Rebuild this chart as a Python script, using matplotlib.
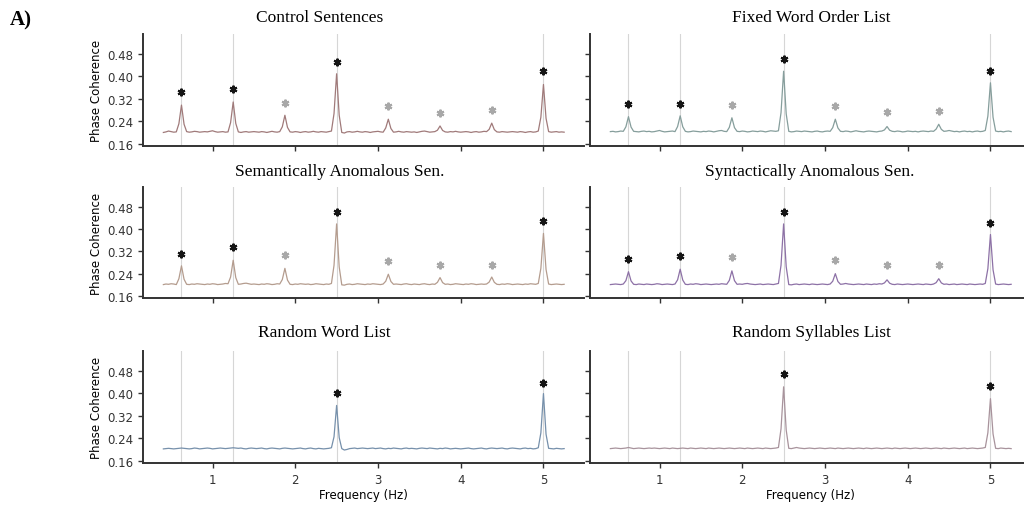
import matplotlib
matplotlib.use("Agg")
import matplotlib.pyplot as plt
import numpy as np

# frequency grid: k/32 Hz for k = 13..168
freqs = np.arange(13, 169) / 32.0

control = [
    0.201,0.203,0.206,0.204,0.202,0.203,0.232,0.298,0.230,0.204,0.202,0.203,0.205,0.204,0.202,0.203,0.204,
    0.203,0.205,0.207,0.204,0.202,0.203,0.204,0.202,0.203,0.236,0.309,0.233,0.203,0.201,0.203,0.204,0.202,0.203,0.204,0.203,
    0.202,0.204,0.203,0.201,0.203,0.205,0.203,0.202,0.204,0.221,0.262,0.219,0.203,0.202,0.204,0.203,0.201,0.203,0.204,0.202,
    0.203,0.205,0.203,0.202,0.204,0.203,0.202,0.204,0.206,0.268,0.409,0.262,0.201,0.199,0.203,0.204,0.202,0.203,0.205,0.203,
    0.202,0.204,0.203,0.201,0.203,0.204,0.205,0.203,0.202,0.217,0.248,0.215,0.202,0.203,0.205,0.203,0.202,0.204,0.203,0.202,
    0.203,0.201,0.203,0.205,0.206,0.204,0.202,0.203,0.204,0.209,0.224,0.208,0.203,0.202,0.204,0.203,0.205,0.203,0.202,0.203,
    0.204,0.203,0.201,0.203,0.204,0.202,0.203,0.205,0.204,0.212,0.234,0.211,0.203,0.202,0.204,0.203,0.202,0.203,0.204,0.203,
    0.202,0.204,0.203,0.201,0.203,0.204,0.202,0.203,0.206,0.255,0.371,0.251,0.204,0.202,0.203,0.204,0.202,0.203,0.202]

fixed = [
    0.204,0.205,0.203,0.204,0.206,0.205,0.221,0.257,0.220,0.205,0.204,0.203,0.205,0.206,0.204,0.205,0.203,
    0.204,0.206,0.208,0.205,0.203,0.204,0.205,0.206,0.204,0.222,0.260,0.221,0.205,0.203,0.204,0.206,0.205,0.204,0.203,0.205,
    0.204,0.206,0.205,0.203,0.205,0.207,0.208,0.205,0.204,0.219,0.253,0.218,0.205,0.204,0.206,0.205,0.203,0.204,0.206,0.205,
    0.204,0.206,0.205,0.203,0.205,0.207,0.206,0.205,0.207,0.271,0.418,0.267,0.205,0.203,0.204,0.206,0.205,0.204,0.206,0.205,
    0.204,0.203,0.205,0.206,0.204,0.203,0.205,0.206,0.205,0.218,0.248,0.217,0.205,0.204,0.206,0.205,0.203,0.205,0.207,0.205,
    0.204,0.203,0.205,0.206,0.205,0.204,0.203,0.205,0.206,0.210,0.222,0.209,0.205,0.204,0.206,0.205,0.203,0.204,0.206,0.205,
    0.204,0.205,0.203,0.205,0.206,0.205,0.204,0.206,0.205,0.213,0.230,0.212,0.205,0.206,0.208,0.206,0.204,0.205,0.203,0.205,
    0.206,0.204,0.205,0.203,0.205,0.206,0.204,0.205,0.208,0.259,0.377,0.255,0.206,0.204,0.205,0.203,0.205,0.206,0.204]

semantic = [
    0.201,0.203,0.202,0.204,0.203,0.201,0.222,0.268,0.220,0.202,0.201,0.203,0.202,0.204,0.203,0.202,0.201,
    0.203,0.202,0.204,0.203,0.201,0.202,0.203,0.205,0.204,0.228,0.288,0.226,0.202,0.203,0.205,0.206,0.204,0.202,0.203,0.202,
    0.201,0.203,0.202,0.204,0.203,0.201,0.202,0.204,0.203,0.219,0.259,0.217,0.202,0.201,0.203,0.202,0.204,0.203,0.202,0.203,
    0.201,0.202,0.204,0.203,0.202,0.201,0.203,0.202,0.205,0.270,0.418,0.264,0.200,0.199,0.202,0.203,0.201,0.202,0.204,0.203,
    0.202,0.201,0.203,0.202,0.204,0.203,0.202,0.201,0.203,0.213,0.238,0.212,0.202,0.203,0.202,0.201,0.203,0.204,0.202,0.201,
    0.203,0.202,0.201,0.203,0.204,0.202,0.201,0.203,0.202,0.209,0.226,0.208,0.202,0.203,0.201,0.202,0.204,0.203,0.202,0.201,
    0.203,0.202,0.204,0.203,0.201,0.202,0.203,0.202,0.203,0.210,0.228,0.209,0.202,0.201,0.203,0.202,0.204,0.203,0.201,0.202,
    0.203,0.202,0.201,0.203,0.202,0.204,0.203,0.202,0.205,0.259,0.384,0.255,0.203,0.201,0.202,0.203,0.202,0.201,0.202]

syntactic = [
    0.201,0.202,0.203,0.202,0.201,0.203,0.215,0.247,0.214,0.202,0.201,0.203,0.202,0.201,0.203,0.202,0.201,
    0.202,0.204,0.203,0.201,0.202,0.203,0.202,0.201,0.203,0.218,0.256,0.217,0.202,0.201,0.203,0.202,0.204,0.203,0.201,0.202,
    0.203,0.202,0.201,0.202,0.203,0.202,0.204,0.203,0.202,0.216,0.250,0.215,0.202,0.203,0.202,0.204,0.205,0.203,0.202,0.201,
    0.202,0.203,0.201,0.202,0.203,0.202,0.201,0.203,0.205,0.270,0.418,0.265,0.201,0.200,0.202,0.203,0.201,0.202,0.203,0.202,
    0.201,0.203,0.202,0.201,0.202,0.203,0.202,0.201,0.203,0.213,0.240,0.212,0.202,0.203,0.205,0.203,0.202,0.201,0.202,0.203,
    0.202,0.201,0.203,0.202,0.201,0.203,0.202,0.204,0.203,0.207,0.218,0.206,0.202,0.201,0.203,0.202,0.201,0.202,0.203,0.202,
    0.201,0.202,0.203,0.202,0.201,0.203,0.202,0.201,0.203,0.208,0.222,0.207,0.202,0.203,0.201,0.202,0.203,0.201,0.202,0.203,
    0.202,0.201,0.203,0.202,0.201,0.202,0.203,0.202,0.205,0.258,0.380,0.254,0.203,0.201,0.202,0.203,0.202,0.201,0.202]

rand_words = [
    0.203,0.204,0.205,0.204,0.203,0.204,0.205,0.206,0.205,0.204,0.203,0.204,0.206,0.205,0.203,0.204,0.205,
    0.206,0.205,0.203,0.204,0.205,0.206,0.205,0.204,0.205,0.206,0.207,0.206,0.205,0.206,0.204,0.203,0.205,0.206,0.205,0.204,
    0.205,0.206,0.204,0.203,0.205,0.206,0.205,0.204,0.203,0.205,0.206,0.205,0.204,0.203,0.204,0.205,0.206,0.204,0.203,0.205,
    0.206,0.204,0.203,0.205,0.204,0.203,0.204,0.205,0.207,0.246,0.357,0.243,0.204,0.199,0.201,0.204,0.205,0.206,0.204,0.205,
    0.206,0.205,0.204,0.205,0.206,0.204,0.205,0.206,0.204,0.203,0.205,0.204,0.206,0.205,0.204,0.203,0.205,0.206,0.204,0.205,
    0.204,0.203,0.205,0.206,0.205,0.204,0.206,0.205,0.204,0.203,0.205,0.204,0.206,0.205,0.203,0.204,0.205,0.204,0.203,0.204,
    0.205,0.206,0.204,0.203,0.204,0.205,0.206,0.204,0.203,0.205,0.206,0.205,0.204,0.205,0.206,0.204,0.203,0.205,0.206,0.205,
    0.204,0.203,0.205,0.206,0.204,0.205,0.203,0.204,0.207,0.260,0.399,0.255,0.205,0.204,0.203,0.205,0.204,0.203,0.204]

rand_syll = [
    0.204,0.205,0.206,0.205,0.204,0.205,0.206,0.208,0.206,0.204,0.205,0.206,0.205,0.204,0.205,0.206,0.205,
    0.206,0.205,0.204,0.205,0.206,0.205,0.204,0.206,0.205,0.204,0.205,0.206,0.205,0.204,0.206,0.205,0.204,0.205,0.206,0.205,
    0.204,0.206,0.205,0.204,0.205,0.206,0.205,0.204,0.205,0.206,0.205,0.204,0.205,0.206,0.205,0.204,0.206,0.205,0.204,0.205,
    0.206,0.205,0.204,0.206,0.205,0.204,0.205,0.206,0.208,0.274,0.423,0.270,0.205,0.204,0.206,0.208,0.206,0.205,0.204,0.205,
    0.206,0.205,0.204,0.205,0.206,0.205,0.204,0.205,0.206,0.205,0.204,0.206,0.205,0.204,0.205,0.206,0.205,0.204,0.205,0.206,
    0.205,0.204,0.206,0.205,0.204,0.205,0.206,0.205,0.204,0.205,0.206,0.205,0.204,0.206,0.205,0.204,0.205,0.206,0.205,0.204,
    0.205,0.206,0.205,0.204,0.205,0.206,0.205,0.204,0.205,0.206,0.205,0.204,0.206,0.205,0.204,0.205,0.206,0.205,0.204,0.205,
    0.206,0.204,0.205,0.206,0.205,0.204,0.205,0.206,0.208,0.260,0.381,0.256,0.205,0.204,0.206,0.205,0.204,0.205,0.204]

titles = ["Control Sentences", "Fixed Word Order List",
          "Semantically Anomalous Sen.", "Syntactically Anomalous Sen.",
          "Random Word List", "Random Syllables List"]
series = [control, fixed, semantic, syntactic, rand_words, rand_syll]
colors = ["#a07a7a", "#869e9c", "#b49c8e", "#8d71a6", "#7690ab", "#a8939c"]

# significance markers
star_f_all = [0.625, 1.25, 1.875, 2.5, 3.125, 3.75, 4.375, 5.0]
star_black_all = [True, True, False, True, False, False, False, True]
star_y = [
    [0.344, 0.354, 0.307, 0.450, 0.294, 0.269, 0.281, 0.418],
    [0.303, 0.303, 0.297, 0.462, 0.295, 0.272, 0.277, 0.420],
    [0.312, 0.334, 0.306, 0.459, 0.286, 0.271, 0.272, 0.427],
    [0.294, 0.302, 0.298, 0.462, 0.290, 0.270, 0.270, 0.420],
    [0.402, 0.438],
    [0.467, 0.425],
]
star_f_rand = [2.5, 5.0]

vlines = [0.625, 1.25, 2.5, 5.0]
yticks = [0.16, 0.24, 0.32, 0.40, 0.48]

fig = plt.figure(figsize=(10.24, 5.06), dpi=100)
W, H = 1024.0, 506.0
col_left = [143, 590]
row_box = [(35, 147), (188, 299), (352, 464)]
ax_w = 441
# title centres (pixels), the panel titles are not centred on the axes
title_x = [320, 811, 340, 810, 324, 811]
title_y = [18, 172, 333]

for i in range(6):
    r, c = divmod(i, 2)
    top, bot = row_box[r]
    ax = fig.add_axes([col_left[c] / W, 1 - bot / H, ax_w / W, (bot - top) / H])
    for v in vlines:
        ax.axvline(v, color="#d6d6d6", lw=0.8, zorder=0)
    ax.plot(freqs, series[i], color=colors[i], lw=0.9)
    if i < 4:
        fs, blk = star_f_all, star_black_all
    else:
        fs, blk = star_f_rand, [True, True]
    for f, yy, b in zip(fs, star_y[i], blk):
        ax.plot(f, yy, marker=(6, 2, 0), ms=5.5, mew=1.5,
                color="#151515" if b else "#a8a8a8", linestyle="none")
    ax.set_xlim(0.16, 5.49)
    ax.set_ylim(0.153, 0.55)
    ax.set_yticks(yticks)
    ax.set_xticks([1, 2, 3, 4, 5])
    ax.spines["top"].set_visible(False)
    ax.spines["right"].set_visible(False)
    for s in ["left", "bottom"]:
        ax.spines[s].set_color("#333333")
        ax.spines[s].set_linewidth(1.4)
    ax.tick_params(colors="#333333", labelsize=8.5, length=3.5, width=1.0)
    if c == 0:
        ax.set_yticklabels(["%.2f" % t for t in yticks])
        ax.set_ylabel("Phase Coherence", fontsize=8.5, labelpad=3)
    else:
        ax.set_yticklabels([])
    if r < 2:
        ax.set_xticklabels([])
    else:
        ax.set_xlabel("Frequency (Hz)", fontsize=8.5, labelpad=2)
    fig.text(title_x[i] / W, 1 - title_y[r] / H, titles[i],
             family="Liberation Serif", fontsize=12.5, ha="center", va="center")

fig.text(10 / W, 1 - 20 / H, "A)", family="Liberation Serif", fontsize=15,
         fontweight="bold", va="center", ha="left")

fig.savefig("out.png", dpi=100)
